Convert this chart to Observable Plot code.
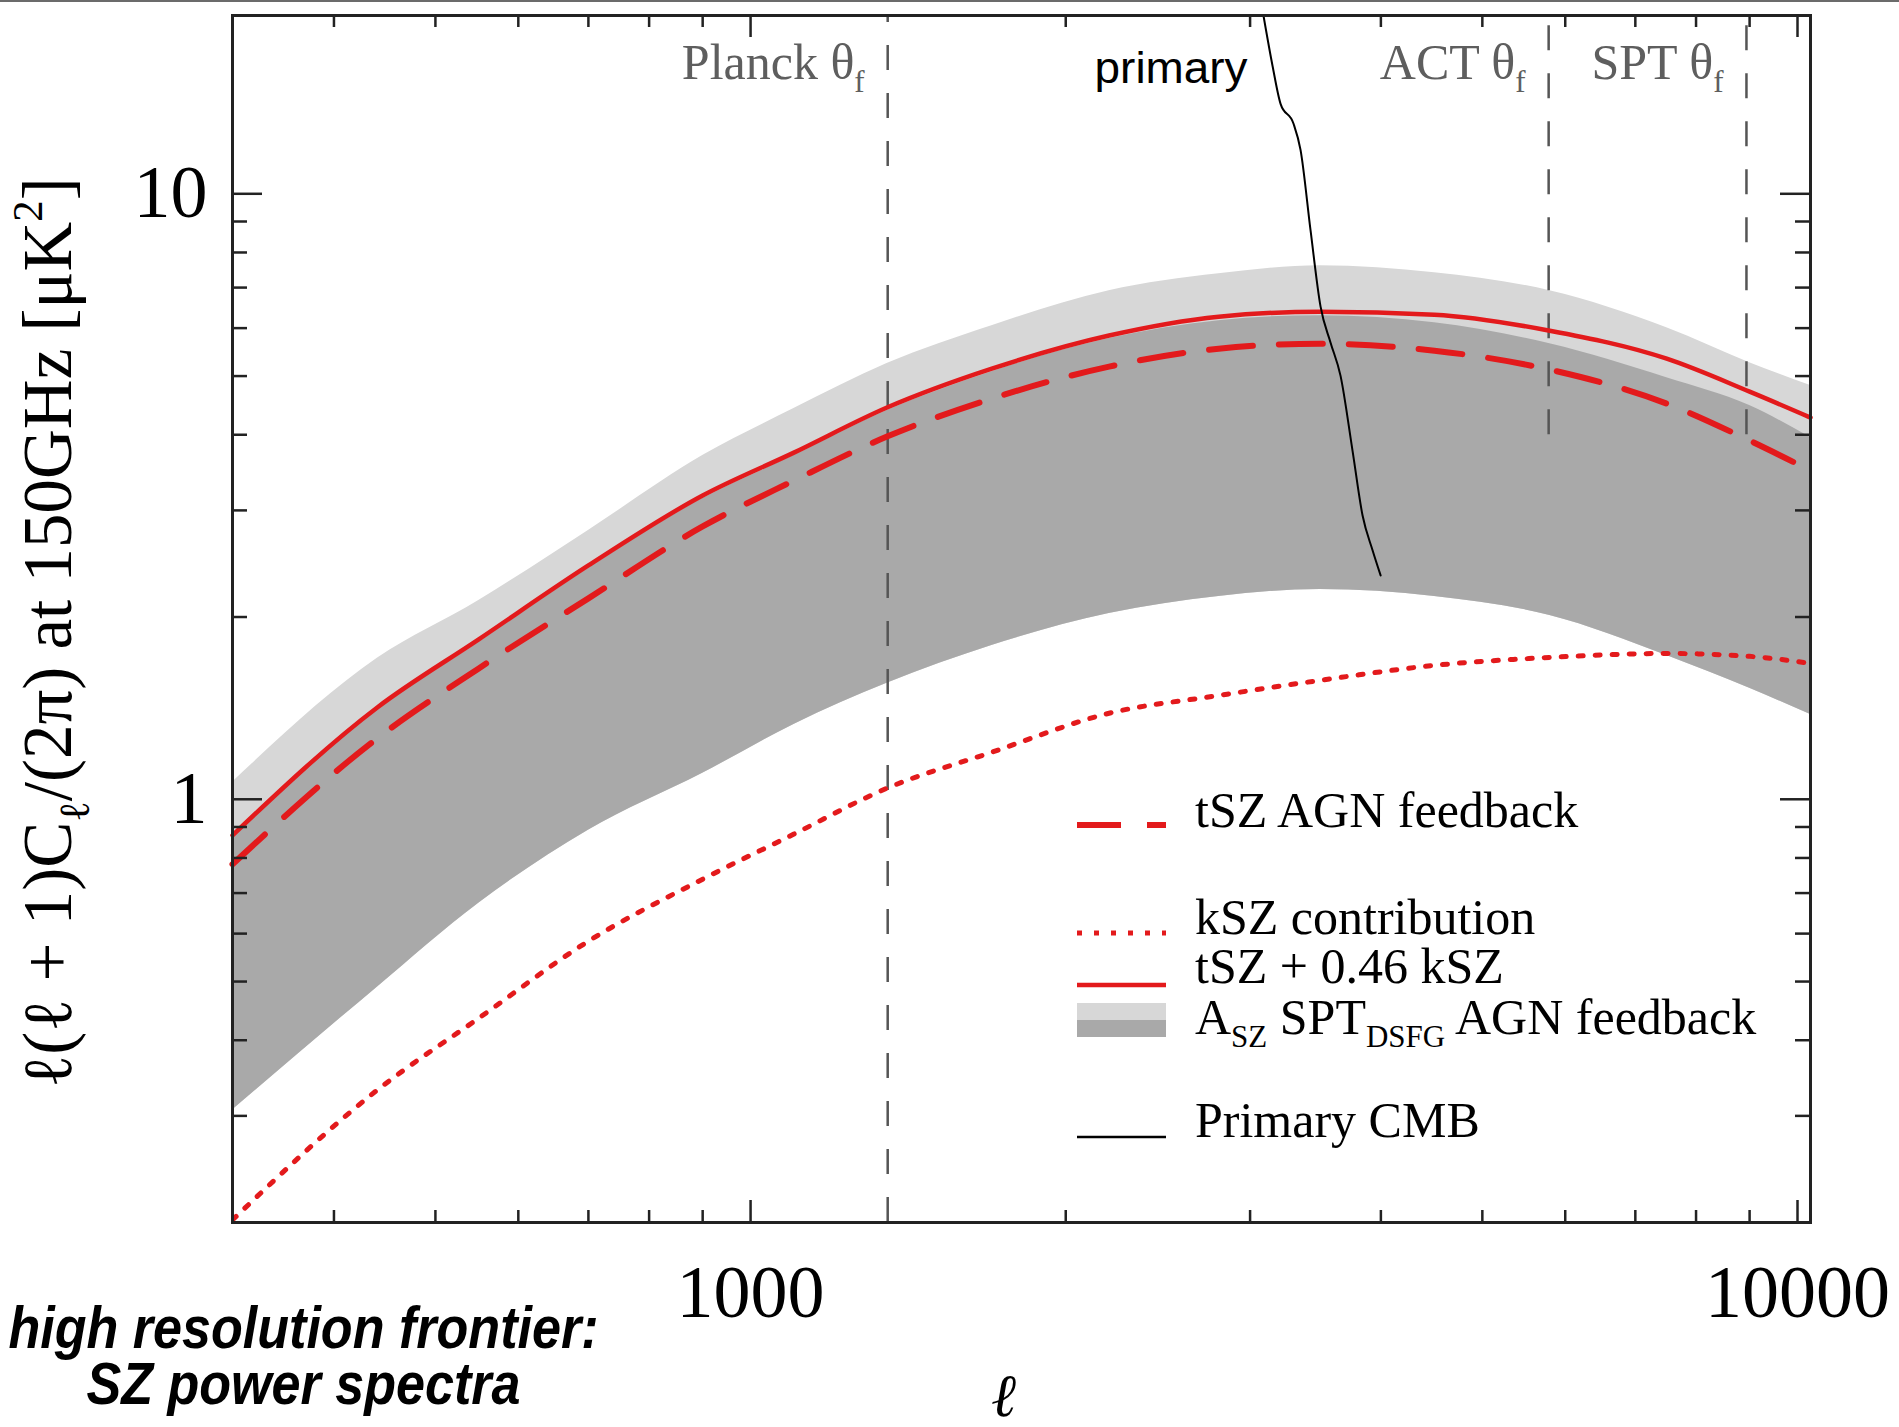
<!DOCTYPE html>
<html>
<head>
<meta charset="utf-8">
<script src="https://cdn.jsdelivr.net/npm/d3@7"></script>
<script src="https://cdn.jsdelivr.net/npm/@observablehq/plot@0.6"></script>
<style>
html, body { margin: 0; padding: 0; background: #fff; }
#wrap { position: relative; width: 1899px; height: 1427px; overflow: hidden; background: #fff; }
#topline { position: absolute; left: 0; top: 0; width: 1899px; height: 2px; background: #6b6b6b; z-index: 2; }
</style>
</head>
<body>
<div id="wrap"><div id="topline"></div></div>
<script>
// ---------- data ----------
const ell = [320, 440, 550, 700, 900, 1100, 1350, 1700, 2200, 2800, 3500, 4500, 5800, 7500, 9000, 10290];
const tszAgnFeedback = [0.781, 1.261, 1.645, 2.147, 2.822, 3.360, 3.972, 4.589, 5.183, 5.549, 5.656, 5.507, 5.123, 4.503, 3.913, 3.491];
const kszContribution = [0.202, 0.331, 0.435, 0.583, 0.738, 0.876, 1.043, 1.196, 1.387, 1.484, 1.572, 1.664, 1.715, 1.741, 1.722, 1.677];
const tszPlusKsz = [0.872, 1.418, 1.837, 2.433, 3.175, 3.737, 4.436, 5.143, 5.833, 6.266, 6.388, 6.315, 5.941, 5.342, 4.713, 4.270];
const bandOuterTop = [1.067, 1.709, 2.130, 2.780, 3.695, 4.418, 5.243, 6.056, 6.918, 7.379, 7.606, 7.407, 6.918, 6.010, 5.262, 4.822];
const bandInnerTop = [0.862, 1.403, 1.816, 2.405, 3.138, 3.695, 4.385, 5.085, 5.766, 6.172, 6.291, 6.125, 5.656, 4.970, 4.469, 3.957];
const bandBottom = [0.3067, 0.4895, 0.6735, 0.889, 1.104, 1.329, 1.554, 1.795, 2.027, 2.163, 2.221, 2.163, 2.012, 1.728, 1.525, 1.381];
const primaryEll = [3070, 3090, 3152, 3208, 3301, 3352, 3427, 3503, 3581, 3660, 3758, 3842, 3928, 3998];
const primaryCMB = [21, 19.67, 16.26, 14.08, 13.05, 11.82, 8.69, 6.51, 5.677, 5.008, 3.766, 2.942, 2.576, 2.342];
const beamNames = ["Planck θ_{f}", "ACT θ_{f}", "SPT θ_{f}"];
const beamEll = [1352, 5785, 8938];
const beamLineBottom = [0.2, 4, 4];
const xMajorTicks = [1000, 10000];
const xMinorTicks = [400, 500, 600, 700, 800, 900, 2000, 3000, 4000, 5000, 6000, 7000, 8000, 9000];
const yMajorTicks = [1, 10];
const yMinorTicks = [0.3, 0.4, 0.5, 0.6, 0.7, 0.8, 0.9, 2, 3, 4, 5, 6, 7, 8, 9];
const legendLabels = ["tSZ AGN feedback", "kSZ contribution", "tSZ + 0.46 kSZ", "A_{SZ} SPT_{DSFG} AGN feedback", "Primary CMB"];
const yLabel = "ℓ(ℓ + 1)C_{ℓ}/(2π) at 150GHz [μK^{2}]";
const xLabel = "ℓ";
const primaryNote = "primary";
const captionLines = ["high resolution frontier:", "SZ power spectra"];

// ---------- layout ----------
const W = 1899, H = 1427, mL = 232, mR = 89, mT = 15, mB = 205;
const fw = W - mL - mR, fh = H - mT - mB;
const RED = "#e31a1c";
const SERIF = "'Liberation Serif', 'Times New Roman', Times, serif";
const NARROW = "'Liberation Sans Narrow', 'Arial Narrow', 'Liberation Sans', Arial, sans-serif";
const SANS = "'Liberation Sans', Arial, sans-serif";
const curve = "monotone-x";

const rows = ell.map((l, i) => ({
  ell: l, tsz: tszAgnFeedback[i], ksz: kszContribution[i], tot: tszPlusKsz[i],
  outer: bandOuterTop[i], inner: bandInnerTop[i], bottom: bandBottom[i]
}));
const primary = primaryEll.map((l, i) => ({ell: l, v: primaryCMB[i]}));
const beams = beamNames.map((n, i) => ({name: n, ell: beamEll[i], y1: beamLineBottom[i], y2: 19.7}));
const tickStyle = {stroke: "#222", strokeWidth: 2.5};
const mid = {lineAnchor: "middle"};
const capStyle = {fontSize: 60, fontFamily: NARROW, fontWeight: "bold", fontStyle: "italic", textAnchor: "middle", lineAnchor: "middle"};

const chart = Plot.plot({
  width: W, height: H,
  marginLeft: mL, marginRight: mR, marginTop: mT, marginBottom: mB,
  x: {type: "log", domain: [320, 10290], axis: null},
  y: {type: "log", domain: [0.2, 19.7], axis: null},
  style: {fontFamily: SERIF, background: "white", color: "black", overflow: "visible"},
  marks: [
    Plot.areaY(rows, {x: "ell", y1: "bottom", y2: "outer", fill: "#d7d7d7", curve}),
    Plot.areaY(rows, {x: "ell", y1: "bottom", y2: "inner", fill: "#a9a9a9", curve}),
    Plot.ruleX(beams, {x: "ell", y1: "y1", y2: "y2", stroke: "#555", strokeWidth: 2.5, strokeDasharray: "25,23"}),
    Plot.line(rows, {x: "ell", y: "ksz", stroke: RED, strokeWidth: 5, strokeDasharray: "5,12", curve, clip: true}),
    Plot.line(rows, {x: "ell", y: "tsz", stroke: RED, strokeWidth: 6, strokeDasharray: "44,26", curve}),
    Plot.line(rows, {x: "ell", y: "tot", stroke: RED, strokeWidth: 4.5, curve}),
    Plot.line(primary, {x: "ell", y: "v", stroke: "black", strokeWidth: 2, clip: true, curve}),
    // inward ticks on all four sides
    Plot.tickX(xMajorTicks, {x: d => d, insetTop: fh - 22, ...tickStyle}),
    Plot.tickX(xMajorTicks, {x: d => d, insetBottom: fh - 22, ...tickStyle}),
    Plot.tickX(xMinorTicks, {x: d => d, insetTop: fh - 12, ...tickStyle}),
    Plot.tickX(xMinorTicks, {x: d => d, insetBottom: fh - 12, ...tickStyle}),
    Plot.tickY(yMajorTicks, {y: d => d, insetRight: fw - 30, ...tickStyle}),
    Plot.tickY(yMajorTicks, {y: d => d, insetLeft: fw - 30, ...tickStyle}),
    Plot.tickY(yMinorTicks, {y: d => d, insetRight: fw - 15, ...tickStyle}),
    Plot.tickY(yMinorTicks, {y: d => d, insetLeft: fw - 15, ...tickStyle}),
    Plot.frame({stroke: "#222", strokeWidth: 3}),
    // tick labels
    Plot.text(xMajorTicks, {x: d => d, text: d => String(d), frameAnchor: "bottom", dy: 71, fontSize: 74, textAnchor: "middle", ...mid}),
    Plot.text(yMajorTicks, {y: d => d, text: d => String(d), frameAnchor: "left", dx: -25, textAnchor: "end", fontSize: 74, ...mid}),
    // axis titles
    Plot.text([xLabel], {text: d => d, frameAnchor: "bottom", dx: -18, dy: 174, fontSize: 60, fontStyle: "italic", textAnchor: "middle", ...mid}),
    Plot.text([yLabel], {text: d => d, frameAnchor: "left", rotate: -90, dx: -184, dy: 13.5, fontSize: 69, textAnchor: "middle", ...mid}),
    // beam labels
    Plot.text(beams, {x: "ell", text: "name", frameAnchor: "top", dy: 47, dx: -23, textAnchor: "end", fontSize: 50, fill: "#5e5e5e", ...mid}),
    // annotation
    Plot.text([primaryNote], {x: () => primaryEll[0], text: d => d, frameAnchor: "top", dy: 53, dx: -13, textAnchor: "end", fontSize: 44, fontFamily: SANS, ...mid}),
    // caption
    Plot.text([captionLines[0]], {text: d => d, frameAnchor: "bottom-left", dx: 71, dy: 106, ...capStyle}),
    Plot.text([captionLines[1]], {text: d => d, frameAnchor: "bottom-left", dx: 71, dy: 162, ...capStyle})
  ]
});

document.getElementById("wrap").appendChild(chart);
chart.style.position = "absolute";
chart.style.left = "0px";
chart.style.top = "0px";

// ---------- legend ----------
const svg = d3.select(chart);
const lg = svg.append("g").attr("font-family", SERIF).attr("font-size", 50).attr("fill", "black").attr("text-anchor", "start");
const sx0 = 1077, sx1 = 1166, tx = 1195;
lg.append("line").attr("x1", sx0).attr("x2", sx1).attr("y1", 825).attr("y2", 825)
  .attr("stroke", RED).attr("stroke-width", 6).attr("stroke-dasharray", "44,26");
lg.append("line").attr("x1", sx0).attr("x2", sx1).attr("y1", 933).attr("y2", 933)
  .attr("stroke", RED).attr("stroke-width", 5).attr("stroke-dasharray", "5,12");
lg.append("line").attr("x1", sx0).attr("x2", sx1).attr("y1", 985).attr("y2", 985)
  .attr("stroke", RED).attr("stroke-width", 4.5);
lg.append("rect").attr("x", sx0).attr("y", 1003).attr("width", sx1 - sx0).attr("height", 17).attr("fill", "#d7d7d7");
lg.append("rect").attr("x", sx0).attr("y", 1020).attr("width", sx1 - sx0).attr("height", 17).attr("fill", "#a9a9a9");
lg.append("line").attr("x1", sx0).attr("x2", sx1).attr("y1", 1137).attr("y2", 1137)
  .attr("stroke", "black").attr("stroke-width", 2.5);
const baselines = [827, 934, 983, 1034, 1137];
legendLabels.forEach((t, i) => {
  lg.append("text").attr("x", tx).attr("y", baselines[i]).attr("text-anchor", "start").text(t);
});

// ---------- rich text: _{sub} and ^{sup} ----------
function richify(el) {
  const s = el.textContent;
  if (!/[_^]\{/.test(s)) return;
  const fs = parseFloat(getComputedStyle(el).fontSize) || 48;
  while (el.firstChild) el.removeChild(el.firstChild);
  const re = /([_^])\{([^}]*)\}/g;
  let last = 0, m, shift = 0;
  const add = (txt, kind) => {
    const t = document.createElementNS("http://www.w3.org/2000/svg", "tspan");
    t.textContent = txt;
    const target = kind === "_" ? 0.26 * fs : kind === "^" ? -0.42 * fs : 0;
    if (target - shift !== 0) t.setAttribute("dy", target - shift);
    shift = target;
    if (kind) t.setAttribute("font-size", 0.62 * fs);
    el.appendChild(t);
  };
  while ((m = re.exec(s))) {
    if (m.index > last) add(s.slice(last, m.index), null);
    add(m[2], m[1]);
    last = re.lastIndex;
  }
  if (last < s.length) add(s.slice(last), null);
}
function fit(match, width) {
  for (const el of chart.querySelectorAll("text")) {
    if (el.textContent === match) {
      el.setAttribute("textLength", width);
      el.setAttribute("lengthAdjust", "spacingAndGlyphs");
    }
  }
}
fit(captionLines[0], 590);
fit(captionLines[1], 434);
fit(primaryNote, 153);
for (const el of chart.querySelectorAll("text")) richify(el);
</script>
</body>
</html>
